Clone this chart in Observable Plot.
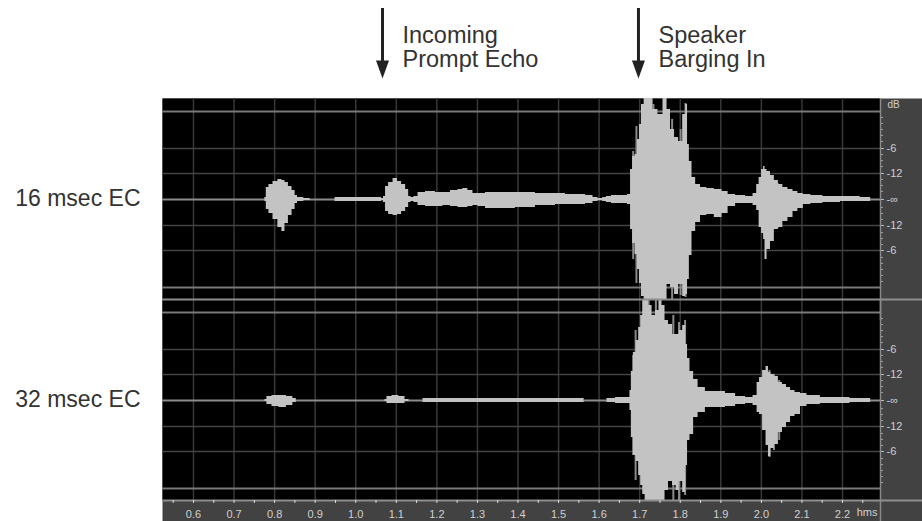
<!DOCTYPE html>
<html>
<head>
<meta charset="utf-8">
<script src="https://cdn.jsdelivr.net/npm/d3@7"></script>
<script src="https://cdn.jsdelivr.net/npm/@observablehq/plot@0.6"></script>
<style>
  body { margin: 0; background: #fff; }
  #chart svg { display: block; }
</style>
</head>
<body>
<div id="chart"></div>
<script>
// ---- Data ----
const channels = ["16 msec EC", "32 msec EC"];
const timeExtent = [0.5236, 2.2937];            // seconds shown in the editor window
const ampExtent = [-100, 101];                  // display amplitude units (0 dB = ±88)
const fullScale = [88, -88];                    // 0 dB lines
const dbTickValues = [51, 26, 0, -26, -51];
const dbTickLabels = ["-6", "-12", "-∞", "-12", "-6"];
const dbMinorTicks = [82, 76, 70, 64, 58, 45, 39, 33, 20, 14, 8, -8, -14, -20, -33, -39, -45, -58, -64, -70, -76, -82];
const timeTicks = [0.6, 0.7, 0.8, 0.9, 1.0, 1.1, 1.2, 1.3, 1.4, 1.5, 1.6, 1.7, 1.8, 1.9, 2.0, 2.1, 2.2];
const timeMinorTicks = [0.55, 0.6, 0.65, 0.7, 0.75, 0.8, 0.85, 0.9, 0.95, 1.0, 1.05, 1.1, 1.15, 1.2, 1.25, 1.3, 1.35, 1.4, 1.45, 1.5, 1.55, 1.6, 1.65, 1.7, 1.75, 1.8, 1.85, 1.9, 1.95, 2.0, 2.05, 2.1, 2.15, 2.2, 2.25];

// 16 msec EC waveform envelope: time, upper peak, lower peak
const ch1Time = [0.524,0.775,0.777,0.782,0.790,0.802,0.814,0.822,0.829,0.839,0.847,0.854,0.859,0.885,0.890,0.948,0.950,1.061,1.066,1.071,1.076,1.086,1.098,1.108,1.118,1.128,1.133,1.140,1.147,1.160,1.184,1.209,1.221,1.246,1.258,1.270,1.283,1.295,1.308,1.332,1.357,1.381,1.406,1.431,1.455,1.480,1.505,1.529,1.554,1.579,1.591,1.603,1.615,1.621,1.640,1.665,1.675,1.680,1.685,1.692,1.697,1.702,1.707,1.715,1.727,1.739,1.751,1.764,1.771,1.781,1.791,1.801,1.811,1.816,1.820,1.825,1.833,1.843,1.857,1.874,1.894,1.912,1.924,1.949,1.973,1.986,1.991,1.998,2.003,2.008,2.010,2.018,2.027,2.037,2.047,2.059,2.072,2.084,2.096,2.111,2.133,2.170,2.220,2.267,2.272,2.294];
const ch1Upper = [0,0,2,12,15,18,20,19,17,13,9,4,2,1,0,0,2,2,1,3,13,17,21,18,15,10,3,2,3,7,8,7,7,9,10,11,9,6,6,7,7,7,7,7,6,6,6,5,5,4,2,1,2,3,4,4,5,30,43,45,60,75,95,101,101,90,85,101,90,70,62,58,85,95,55,38,22,15,12,11,10,8,5,4,3,6,15,22,30,33,30,28,24,19,15,12,10,8,6,5,4,3,3,2,0,0];
const ch1Lower = [0,0,2,10,14,20,28,32,24,16,10,4,2,1,0,0,2,2,1,3,12,15,16,15,12,8,3,2,3,6,7,7,6,7,8,8,7,6,7,9,9,9,8,8,6,6,5,5,5,4,2,1,2,3,4,4,5,30,44,55,70,84,97,100,100,100,100,100,85,88,95,85,97,95,80,56,32,23,16,15,18,14,7,4,4,6,11,28,34,40,60,50,42,30,28,22,18,12,9,5,4,3,2,2,0,0];

// 32 msec EC waveform envelope
const ch2Time = [0.524,0.775,0.777,0.785,0.802,0.819,0.839,0.851,0.856,1.071,1.073,1.081,1.098,1.115,1.128,1.135,1.165,1.167,1.250,1.350,1.450,1.561,1.565,1.618,1.621,1.660,1.675,1.677,1.682,1.687,1.695,1.700,1.705,1.710,1.717,1.727,1.734,1.744,1.751,1.759,1.766,1.776,1.786,1.794,1.801,1.811,1.816,1.820,1.828,1.838,1.850,1.874,1.899,1.924,1.949,1.973,1.986,1.993,1.998,2.008,2.015,2.020,2.027,2.037,2.047,2.057,2.067,2.077,2.089,2.104,2.121,2.170,2.267,2.272,2.294];
const ch2Upper = [0,0,1,4,5,5,4,2,0,0,1,4,5,4,1,0,0,2,2,2,2,2,0,0,2,3,3,10,29,48,60,73,85,103,103,95,85,90,103,95,80,76,66,66,70,75,56,42,29,21,13,9,9,7,4,3,5,18,23,30,34,28,26,24,18,16,13,10,8,7,5,3,2,0,0];
const ch2Lower = [0,0,1,4,6,7,5,2,0,0,1,3,3,3,1,0,0,2,2,2,2,2,0,0,2,3,3,10,37,55,61,75,85,94,100,100,100,100,100,100,90,81,85,90,81,92,65,40,34,17,12,7,7,6,4,3,5,12,14,30,45,56,48,44,32,27,22,16,14,6,4,3,2,0,0];

// isolated peaks (darker spikes) visible around the loud bursts
const spikeCh = ["16 msec EC","16 msec EC","16 msec EC","16 msec EC","16 msec EC","16 msec EC","16 msec EC","16 msec EC","16 msec EC","16 msec EC","16 msec EC","16 msec EC","32 msec EC","32 msec EC","32 msec EC","32 msec EC","32 msec EC","32 msec EC","32 msec EC","32 msec EC","32 msec EC","32 msec EC"];
const spikeTime = [1.684,1.692,1.723,1.734,1.780,1.801,1.813,2.015,2.023,2.031,2.040,2.047, 1.684,1.690,1.722,1.740,1.783,1.797,1.812,2.020,2.031,2.044];
const spikeUpper = [48,73,101,95,80,70,96,26,22,18,16,14, 45,70,103,100,85,78,80,30,26,20];
const spikeLower = [60,84,100,100,100,96,98,49,40,30,29,24, 55,80,100,100,100,100,95,57,50,40];

// annotations above the top channel
const annotTimes = [1.066, 1.697];
const annotLabels = ["Incoming\nPrompt Echo", "Speaker\nBarging In"];

// ---- Tables built from the arrays ----
const wave = [
  ...ch1Time.map((t, i) => ({ch: channels[0], t, hi: ch1Upper[i], lo: -ch1Lower[i]})),
  ...ch2Time.map((t, i) => ({ch: channels[1], t, hi: ch2Upper[i], lo: -ch2Lower[i]}))
];
const spikes = spikeTime.map((t, i) => ({ch: spikeCh[i], t, hi: spikeUpper[i], lo: -spikeLower[i]}));
const annots = annotTimes.map((t, i) => ({ch: channels[0], t, label: annotLabels[i]}));
const dbLabel = new Map(dbTickValues.map((v, i) => [v, dbTickLabels[i]]));

const arrowHead = {
  draw(context) {
    context.moveTo(-6.5, -10);
    context.lineTo(6.5, -10);
    context.lineTo(0, 8);
    context.closePath();
  }
};

const chart = Plot.plot({
  width: 922,
  height: 521,
  marginTop: 98,
  marginBottom: 21,
  marginLeft: 162,
  marginRight: 42,
  style: {fontFamily: "'Liberation Sans', Arial, sans-serif", background: "#fff"},
  x: {domain: timeExtent},
  y: {domain: ampExtent},
  fy: {domain: channels, padding: 0},
  marks: [
    // gray meter panel + time strip, then black waveform area
    Plot.frame({fill: "#424242", insetRight: -42, insetBottom: -21}),
    Plot.frame({fill: "#000"}),
    Plot.gridX({ticks: timeTicks, stroke: "#383838", strokeOpacity: 1, strokeWidth: 1.5}),
    Plot.gridY({ticks: [51, 26, -26, -51], stroke: "#444", strokeOpacity: 1, strokeWidth: 1.5}),
    Plot.ruleY(fullScale, {stroke: "#7a7a7a", strokeWidth: 2}),
    Plot.ruleY([0], {stroke: "#8c8c8c", strokeWidth: 2}),
    Plot.ruleX(spikes, {x: "t", y1: "lo", y2: "hi", fy: "ch", stroke: "#8a8a8a", strokeWidth: 2, clip: true}),
    Plot.areaY(wave, {x: "t", y1: "lo", y2: "hi", fy: "ch", curve: "step", fill: "#c3c3c3", clip: true}),
    // channel divider / strip border and panel separator
    Plot.ruleY([ampExtent[0]], {stroke: "#8e8e8e", strokeWidth: 2, insetRight: -42}),
    Plot.ruleX([timeExtent[1]], {stroke: "#8a8a8a", strokeWidth: 1.5, insetBottom: -21}),
    // right dB meter scale
    Plot.axisY({anchor: "right", ticks: dbMinorTicks, tickSize: 2, tickFormat: () => "", stroke: "#9a9a9a", label: null}),
    Plot.axisY({anchor: "right", ticks: dbTickValues, tickSize: 3, tickPadding: 3, tickFormat: d => dbLabel.get(d), fontSize: 11, fill: "#cfcfcf", stroke: "#bbb", label: null}),
    Plot.text([{ch: channels[0]}], {fy: "ch", frameAnchor: "top-right", text: () => "dB", dx: 7, dy: 2, textAnchor: "start", lineAnchor: "top", fontSize: 10, fill: "#cfcfcf"}),
    // time axis
    Plot.axisX({ticks: timeMinorTicks, tickSize: 3, tickFormat: () => "", stroke: "#dcdcdc", label: null}),
    Plot.axisX({ticks: timeTicks, tickSize: 0, tickPadding: 10, tickFormat: d3.format(".1f"), fontSize: 11, fill: "#d0d0d0", label: null}),
    Plot.text([{ch: channels[1]}], {fy: "ch", frameAnchor: "bottom-right", text: () => "hms", dx: -3, dy: 15, textAnchor: "end", fontSize: 11, fill: "#d0d0d0"}),
    // channel labels
    Plot.axisFy({anchor: "left", tickSize: 0, tickPadding: 22, fontSize: 23, fill: "#333", label: null}),
    // annotations
    Plot.ruleX(annots, {x: "t", fy: "ch", stroke: "#222", strokeWidth: 3, insetTop: -90, insetBottom: 229}),
    Plot.dot(annots, {x: "t", fy: "ch", frameAnchor: "top", dy: -28, symbol: arrowHead, fill: "#222", stroke: "none"}),
    Plot.text(annots, {x: "t", fy: "ch", text: "label", frameAnchor: "top", dx: 20, dy: -73, textAnchor: "start", lineAnchor: "top", lineHeight: 1.03, fontSize: 23.5, fill: "#333"})
  ]
});
document.getElementById("chart").append(chart);
</script>
</body>
</html>
